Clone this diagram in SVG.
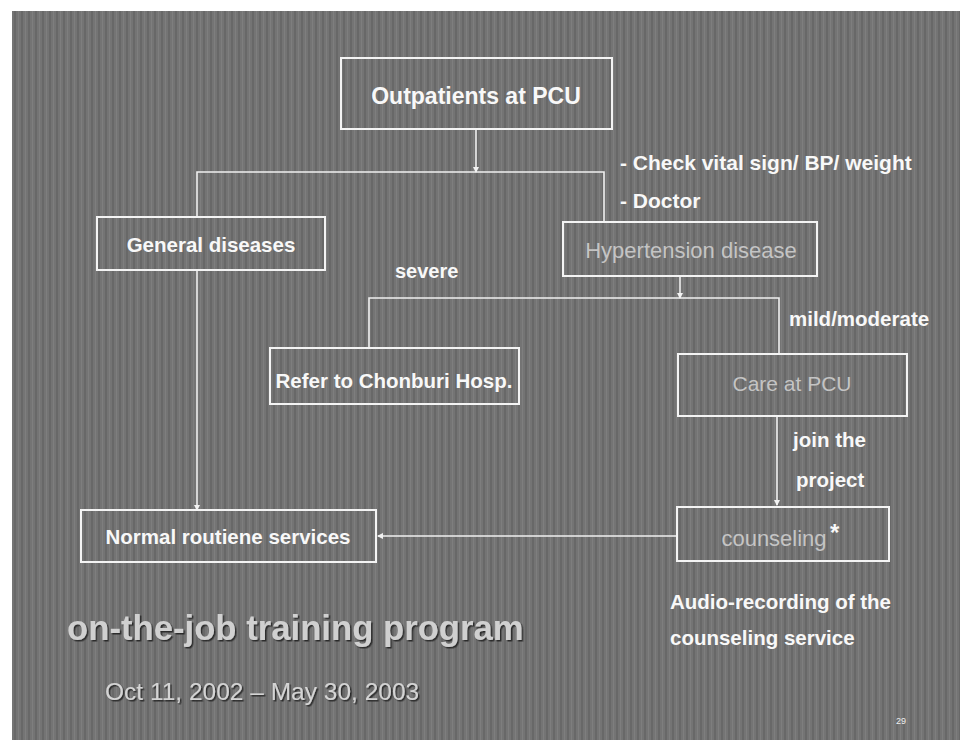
<svg xmlns="http://www.w3.org/2000/svg" width="960" height="743" viewBox="0 0 960 743">
<defs>
<marker id="ah" viewBox="0 0 6 6" refX="5" refY="3" markerWidth="4" markerHeight="4" orient="auto">
<path d="M0,0 L6,3 L0,6 z" fill="#f2f2f2"/>
</marker>
<filter id="sh" x="-5%" y="-20%" width="110%" height="140%">
<feDropShadow dx="1.5" dy="1.5" stdDeviation="0.6" flood-color="#222" flood-opacity="0.9"/>
</filter>
<pattern id="stripes" width="7" height="4" patternUnits="userSpaceOnUse">
<rect width="7" height="4" fill="#747474"/>
<rect x="0" width="2" height="4" fill="#686868"/>
<rect x="4" width="1" height="4" fill="#7e7e7e"/>
</pattern>
</defs>
<style>
.box{fill:none;stroke:#f4f4f4;stroke-width:2}
.lbl{font-family:"Liberation Sans",Arial,sans-serif;font-weight:bold;fill:#f8f8f8;font-size:20.5px}
.dim{font-family:"Liberation Sans",Arial,sans-serif;fill:#c4c4c4;font-size:22px}
.con{fill:none;stroke:#f0f0f0;stroke-width:1.6}
</style>
<rect width="960" height="743" fill="#ffffff"/>
<rect x="12" y="11" width="948" height="729" fill="url(#stripes)"/>

<g id="connectors">
<path class="con" d="M476,129 V172" marker-end="url(#ah)"/>
<path class="con" d="M197,217 V172 H604 V222"/>
<path class="con" d="M197,270 V510" marker-end="url(#ah)"/>
<path class="con" d="M680,276 V298" marker-end="url(#ah)"/>
<path class="con" d="M369,348 V298 H779 V354"/>
<path class="con" d="M777,416 V505" marker-end="url(#ah)"/>
<path class="con" d="M677,536 H378" marker-end="url(#ah)"/>
</g>

<g id="outpatients">
<rect class="box" x="341" y="58" width="271" height="71"/>
<text class="lbl" x="476" y="104" text-anchor="middle" style="font-size:23px">Outpatients at PCU</text>
</g>
<g id="general">
<rect class="box" x="97" y="217" width="228" height="53"/>
<text class="lbl" x="211" y="252" text-anchor="middle">General diseases</text>
</g>
<g id="hypertension">
<rect class="box" x="563" y="222" width="254" height="54"/>
<text class="dim" x="691" y="258" text-anchor="middle">Hypertension disease</text>
</g>
<g id="refer">
<rect class="box" x="270" y="348" width="249" height="56"/>
<text class="lbl" x="394" y="388" text-anchor="middle">Refer to Chonburi Hosp.</text>
</g>
<g id="care">
<rect class="box" x="678" y="354" width="229" height="62"/>
<text class="dim" x="792" y="391" text-anchor="middle" style="font-size:21px">Care at PCU</text>
</g>
<g id="counseling">
<rect class="box" x="677" y="507" width="212" height="54"/>
<text class="dim" x="774" y="546" text-anchor="middle">counseling</text>
<text class="lbl" x="830" y="541" style="font-size:24px">*</text>
</g>
<g id="normal">
<rect class="box" x="81" y="510" width="295" height="52"/>
<text class="lbl" x="228" y="544" text-anchor="middle">Normal routiene services</text>
</g>

<g id="labels">
<text class="lbl" x="620" y="170" style="font-size:21px">- Check vital sign/ BP/ weight</text>
<text class="lbl" x="620" y="208" style="font-size:21px">- Doctor</text>
<text class="lbl" x="395" y="278" style="font-size:20px">severe</text>
<text class="lbl" x="789" y="326" style="font-size:20.5px">mild/moderate</text>
<text class="lbl" x="793" y="447">join the</text>
<text class="lbl" x="796" y="487">project</text>
<text class="lbl" x="670" y="609">Audio-recording of the</text>
<text class="lbl" x="670" y="645">counseling service</text>
<text x="67" y="640" font-family="'Liberation Sans',Arial,sans-serif" font-weight="bold" font-size="34.7" fill="#d0d0d0" filter="url(#sh)">on-the-job training program</text>
<text x="105" y="700" font-family="'Liberation Sans',Arial,sans-serif" font-size="24.5" fill="#d4d4d4" filter="url(#sh)">Oct 11, 2002 – May 30, 2003</text>
<text x="896" y="724" font-family="'Liberation Sans',Arial,sans-serif" font-size="9" fill="#eeeeee">29</text>
</g>
</svg>
